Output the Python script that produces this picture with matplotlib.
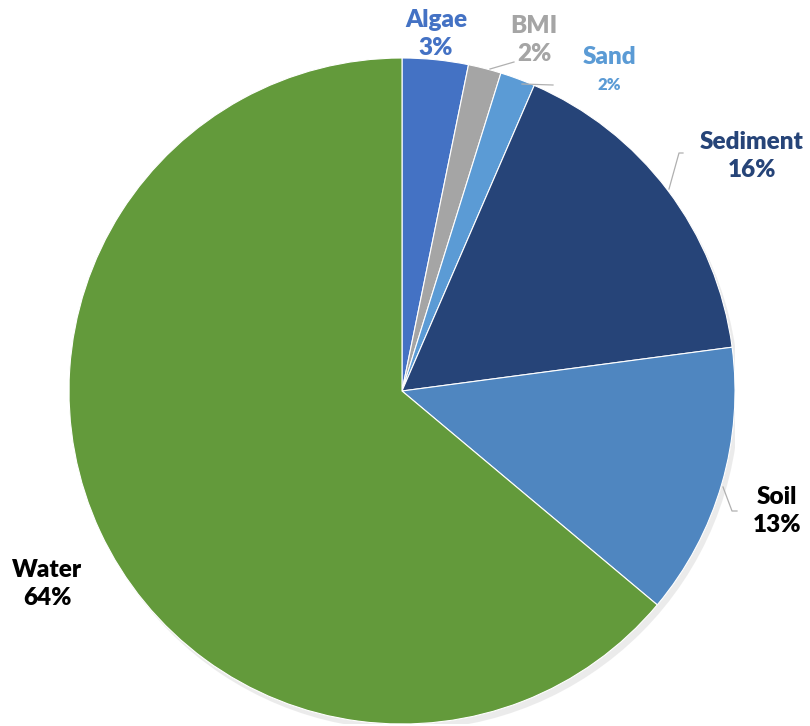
import matplotlib
matplotlib.use('Agg')
import matplotlib.pyplot as plt
from matplotlib.patches import Circle

# slice data, clockwise from 12 o'clock
names = ['Algae', 'BMI', 'Sand', 'Sediment', 'Soil', 'Water']
shares = [3.2, 1.6, 1.7, 16.4, 13.2, 63.9]
pct_labels = ['3%', '2%', '2%', '16%', '13%', '64%']
colors = ['#4472C4', '#A5A5A5', '#5B9BD5', '#264478', '#4F86C0', '#639A3B']
text_colors = ['#4472C4', '#A5A5A5', '#5B9BD5', '#264478', 'black', 'black']

W, H = 810, 726
cx, cy, R = 402, 391, 333

fig = plt.figure(figsize=(W / 100, H / 100), dpi=100)
ax = fig.add_axes([(cx - R) / W, (H - cy - R) / H, 2 * R / W, 2 * R / H])

ax.add_patch(Circle((0.012, -0.018), 1.0, color='#c8c8c8', alpha=0.35, zorder=0, lw=0))
ax.pie(shares, colors=colors, startangle=90, counterclock=False, radius=1.0,
       wedgeprops=dict(edgecolor='white', linewidth=0.8))
ax.set_xlim(-1, 1); ax.set_ylim(-1, 1)
ax.set_aspect('auto')
ax.axis('off')

def px(x, y):
    return (x - cx) / R, (cy - y) / R

FS = 17.5
# label centres in picture pixels
label_pos = [(436, 34), (534, 40), (609, 70), (752, 156), (777, 511), (47, 584)]
for i, name in enumerate(names):
    x, y = px(*label_pos[i])
    if name == 'Sand':
        ax.text(x, y + 0.04, name, ha='center', va='center', fontsize=FS, fontweight='heavy',
                color=text_colors[i], family='Lato', clip_on=False)
        ax.text(x, y - 0.045, pct_labels[i], ha='center', va='center', fontsize=12,
                fontweight='heavy', color=text_colors[i], family='Lato', clip_on=False)
    else:
        ax.text(x, y, f'{name}\n{pct_labels[i]}', ha='center', va='center', fontsize=FS,
                fontweight='heavy', color=text_colors[i], family='Lato', linespacing=1.38,
                clip_on=False)

# leader lines (picture pixels)
leaders = [
    [(490, 69), (514, 62)],
    [(522, 84), (553, 85)],
    [(683, 153), (679, 153), (669, 189)],
    [(723, 487), (732, 511), (737, 511)],
]
for pts in leaders:
    xs, ys = zip(*[px(a, b) for a, b in pts])
    ax.plot(xs, ys, color='#b0b0b0', lw=0.9, clip_on=False)

fig.savefig('out.png', dpi=100)
